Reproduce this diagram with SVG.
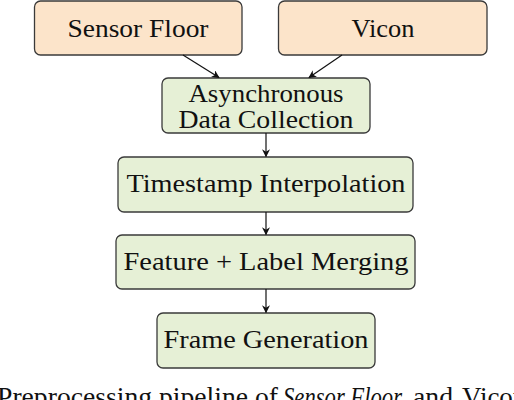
<svg xmlns="http://www.w3.org/2000/svg" width="514" height="400" viewBox="0 0 514 400">
<defs>
<style>
.src rect{fill:#FCE4CA;stroke:#3a3a3a;stroke-width:1.3}
.stp rect{fill:#E6F0D6;stroke:#3a3a3a;stroke-width:1.3}
text{font-family:"Liberation Serif","DejaVu Serif",serif;font-size:25px;fill:#111;text-anchor:middle}
.cap{font-size:27px;text-anchor:start}
.conn line{stroke:#111;stroke-width:1.2;marker-end:url(#ah)}
</style>
<marker id="ah" viewBox="0 0 10 10" refX="9" refY="5" markerWidth="8" markerHeight="8" markerUnits="userSpaceOnUse" orient="auto">
<path d="M0,0 L10,5 L0,10 L3,5 Z" fill="#111"/>
</marker>
</defs>
<rect width="514" height="400" fill="#fff"/>
<g id="sensor-floor" class="src"><rect x="34.5" y="1" width="207.5" height="54" rx="6"/><text x="138" y="37" textLength="141" lengthAdjust="spacingAndGlyphs">Sensor Floor</text></g>
<g id="vicon" class="src"><rect x="278.5" y="1" width="208.5" height="54" rx="6"/><text x="383" y="37" textLength="63" lengthAdjust="spacingAndGlyphs">Vicon</text></g>
<g id="async" class="stp"><rect x="162" y="78" width="208" height="55" rx="6"/><text x="266" y="102" textLength="155" lengthAdjust="spacingAndGlyphs">Asynchronous</text><text x="266" y="128" textLength="175" lengthAdjust="spacingAndGlyphs">Data Collection</text></g>
<g id="timestamp" class="stp"><rect x="118" y="157" width="295" height="55" rx="6"/><text x="266" y="192" textLength="279" lengthAdjust="spacingAndGlyphs">Timestamp Interpolation</text></g>
<g id="merging" class="stp"><rect x="116" y="235" width="299" height="54" rx="6"/><text x="266" y="270" textLength="285" lengthAdjust="spacingAndGlyphs">Feature + Label Merging</text></g>
<g id="frame" class="stp"><rect x="157" y="313" width="218" height="55" rx="6"/><text x="266" y="348" textLength="205" lengthAdjust="spacingAndGlyphs">Frame Generation</text></g>
<g id="connectors" class="conn">
<line x1="183" y1="55" x2="219" y2="77.5"/>
<line x1="342" y1="55" x2="309" y2="77.5"/>
<line x1="266" y1="133" x2="266" y2="156.5"/>
<line x1="266" y1="212" x2="266" y2="234.5"/>
<line x1="266" y1="289" x2="266" y2="312.5"/>
</g>
<text class="cap" y="406"><tspan x="-3" textLength="281" lengthAdjust="spacingAndGlyphs">Preprocessing pipeline of</tspan><tspan x="283" font-style="italic" textLength="119" lengthAdjust="spacingAndGlyphs">Sensor Floor</tspan><tspan x="413" textLength="40" lengthAdjust="spacingAndGlyphs">and</tspan><tspan x="462">Vicon</tspan></text>
</svg>
